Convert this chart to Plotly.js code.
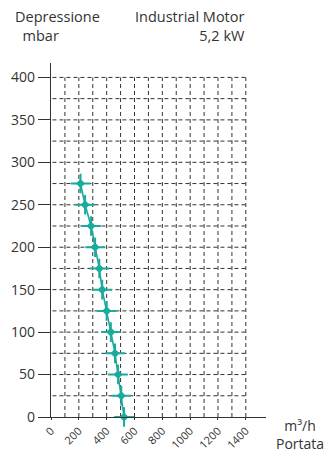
<!DOCTYPE html>
<html>
<head>
<meta charset="utf-8">
<script src="https://cdn.plot.ly/plotly-3.0.1.min.js"></script>
<style>
html,body{margin:0;padding:0;background:#fff;}
#chart{width:326px;height:454px;}
</style>
</head>
<body>
<div id="chart"></div>
<script>
// Data
const portata = [525, 505, 482, 460, 430, 400, 368, 347, 317, 288, 245, 212]; // m3/h
const depressione = [0, 25, 50, 75, 100, 125, 150, 175, 200, 225, 250, 275]; // mbar
const xTicks = [0, 200, 400, 600, 800, 1000, 1200, 1400];
const yTicks = [0, 50, 100, 150, 200, 250, 300, 350, 400];
const xGrid = [100, 200, 300, 400, 500, 600, 700, 800, 900, 1000, 1100, 1200, 1300, 1400];
const yGrid = [25, 50, 75, 100, 125, 150, 175, 200, 225, 250, 275, 300, 325, 350, 375, 400];

const FONT = '"Open Sans", "Noto Sans", sans-serif';
const teal = '#1aab9b';
const gridStyle = {color: '#333', width: 1, dash: '4px,3px'};

const shapes = [];
xGrid.forEach(v => shapes.push({type: 'line', xref: 'x', yref: 'y', x0: v, x1: v, y0: 0, y1: 400, line: gridStyle, layer: 'below'}));
yGrid.forEach(v => shapes.push({type: 'line', xref: 'x', yref: 'y', x0: -40, x1: 1400, y0: v, y1: v, line: gridStyle, layer: 'below'}));

const trace = {
  x: portata, y: depressione, type: 'scatter', mode: 'lines+markers',
  line: {color: teal, width: 1.6},
  marker: {symbol: 'cross-thin', size: 14, color: teal, line: {width: 2, color: teal}},
  cliponaxis: false, hoverinfo: 'skip'
};
const centers = {
  x: portata, y: depressione, type: 'scatter', mode: 'markers',
  marker: {symbol: 'diamond', size: 7, color: teal, line: {width: 0}},
  cliponaxis: false, hoverinfo: 'skip'
};

const NB = '\u00a0';
const layout = {
  width: 326, height: 454,
  margin: {l: 51, r: 60, t: 63, b: 37},
  paper_bgcolor: '#fff', plot_bgcolor: '#fff',
  showlegend: false,
  font: {family: FONT, size: 14, color: '#333'},
  xaxis: {
    range: [0, 1545], tickvals: xTicks, ticktext: xTicks.map(String),
    tickangle: -45, ticks: 'outside', ticklen: 2, tickcolor: '#333', tickwidth: 1,
    showgrid: false, zeroline: false, showline: true, linecolor: '#333', linewidth: 1.2,
    tickfont: {family: FONT, size: 11, color: '#333'}, fixedrange: true
  },
  yaxis: {
    range: [0, 417], tickvals: yTicks, ticktext: yTicks.map(String),
    ticks: 'outside', ticklen: 12, tickcolor: '#333', tickwidth: 1,
    showgrid: false, zeroline: false, showline: true, linecolor: '#333', linewidth: 1.2,
    tickfont: {family: FONT, size: 14, color: '#333'}, fixedrange: true
  },
  shapes: shapes,
  annotations: [
    {text: 'Depressione<br>' + NB + NB + 'mbar', align: 'left', xref: 'paper', yref: 'paper', x: -0.177, y: 1.105, xanchor: 'left', yanchor: 'middle', showarrow: false, font: {family: FONT, size: 14.5, color: '#333'}},
    {text: 'Industrial Motor<br>5,2 kW', align: 'right', xref: 'paper', yref: 'paper', x: 0.912, y: 1.105, xanchor: 'right', yanchor: 'middle', showarrow: false, font: {family: FONT, size: 14.5, color: '#333'}},
    {text: 'm³/h<br>Portata', align: 'center', xref: 'paper', yref: 'paper', x: 1.158, y: -0.05, xanchor: 'center', yanchor: 'middle', showarrow: false, font: {family: FONT, size: 14, color: '#333'}}
  ]
};

Plotly.newPlot('chart', [trace, centers], layout, {staticPlot: true, displayModeBar: false});
</script>
</body>
</html>
